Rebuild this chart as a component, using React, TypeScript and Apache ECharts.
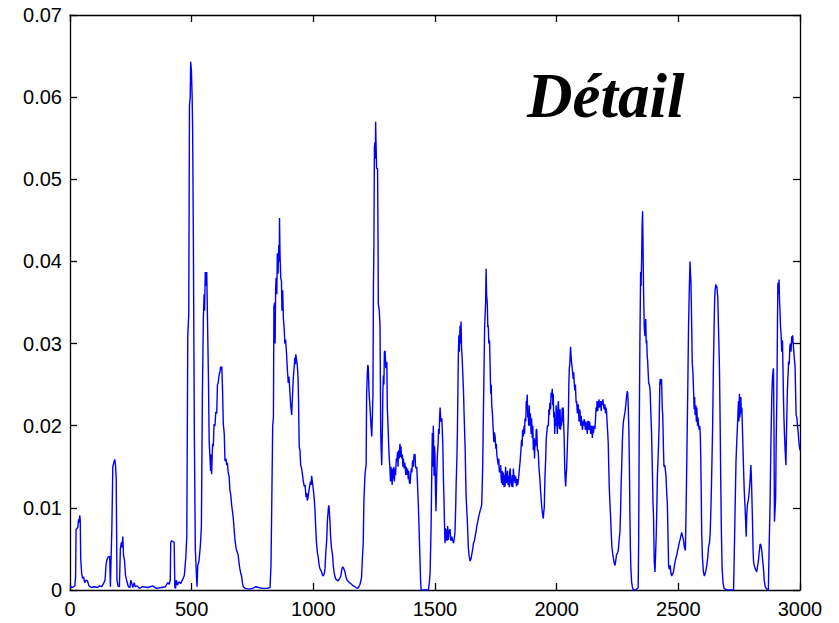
import React, { useEffect, useRef } from "react";
import * as echarts from "echarts";

// Signal samples [x, value]
const segmentA: [number, number][] = [
  [0,0.0004],[10,0.0003],[20,0.0005],[23,0.0016],[25,0.0074],[32,0.0076],[35,0.0086],[38,0.0082],[40,0.0091],[42,0.0086],[44,0.0039],[48,0.0020],[52,0.0014],[56,0.0016],[60,0.0009],[66,0.0012],[72,0.0011],[78,0.0005],[88,0.0003],[100,0.0004],[112,0.0003],[122,0.0005],[130,0.0004],[138,0.0008],[144,0.0012],[148,0.0030],[151,0.0036],[156,0.0040],[163,0.0041],[166,0.0004],[169,0.0040],[172,0.0075],[176,0.0150],[180,0.0155],[184,0.0159],[187,0.0152],[190,0.0135],[193,0.0012],[197,0.0005],[203,0.0004],[207,0.0050],[211,0.0058],[214,0.0052],[217,0.0065],[220,0.0042],[224,0.0036],[228,0.0018],[234,0.0010],[240,0.0004],[246,0.0003],[250,0.0012],[254,0.0008],[258,0.0003],[264,0.0009],[268,0.0004],[276,0.0005],[285,0.0002],[300,0.0004],[320,0.0003],[340,0.0005],[355,0.0002],[375,0.0003],[392,0.0004],[402,0.0009],[408,0.0007],[412,0.0012],[414,0.0058],[418,0.0060],[428,0.0058],[431,0.0003],[434,0.0002],[437,0.0012],[442,0.0006],[448,0.0010],[455,0.0008],[462,0.0012],[470,0.0018],[476,0.0040],[480,0.0065],[484,0.0310],[488,0.0335],[491,0.0590],[494,0.0600],[496,0.0643],[499,0.0632],[502,0.0600],[504,0.0560],[507,0.0426],[511,0.0190],[515,0.0050],[519,0.0022],[522,0.0004],[525,0.0030],[530,0.0035],[536,0.0055],[540,0.0078],[544,0.0235],[548,0.0330],[551,0.0360],[553,0.0340],[556,0.0387],[559,0.0370],[562,0.0387],[565,0.0330],[569,0.0257],[572,0.0180],[575,0.0163],[578,0.0145],[580,0.0165],[582,0.0141],[586,0.0178],[589,0.0175],[592,0.0202],[596,0.0200],[599,0.0217],[603,0.0215],[606,0.0250],[609,0.0252],[613,0.0262],[616,0.0265],[619,0.0272],[622,0.0268],[624,0.0272],
];

const segmentB: [number, number][] = [
  [627,0.0243],[630,0.0202],[634,0.0190],[637,0.0157],[641,0.0160],[644,0.0152],[647,0.0155],[650,0.0143],[654,0.0138],[657,0.0122],[661,0.0115],[664,0.0104],[668,0.0095],[671,0.0087],[675,0.0072],[678,0.0061],[682,0.0052],[685,0.0048],[691,0.0043],[695,0.0032],[698,0.0026],[702,0.0020],[705,0.0017],[709,0.0008],[712,0.0004],[720,0.0002],[735,0.0001],[750,0.0002],[765,0.0004],[775,0.0003],[790,0.0002],[810,0.0002],[822,0.0003],[826,0.0030],[829,0.0100],[833,0.0200],[836,0.0210],[838,0.0345],[841,0.0350],[843,0.0300],[845,0.0365],[847,0.0380],[850,0.0360],[852,0.0410],[855,0.0385],[858,0.0420],[860,0.0400],[861,0.0453],[863,0.0410],[866,0.0380],[869,0.0376],[871,0.0340],[874,0.0365],[877,0.0330],[880,0.0320],[883,0.0300],[886,0.0305],[890,0.0287],[893,0.0270],[897,0.0252],[900,0.0260],[904,0.0239],[907,0.0225],[911,0.0213],[915,0.0240],[918,0.0260],[921,0.0270],[924,0.0283],[926,0.0275],[928,0.0287],[931,0.0280],[934,0.0274],[937,0.0260],[939,0.0235],[942,0.0174],[945,0.0170],[948,0.0152],[952,0.0148],[956,0.0139],[959,0.0132],[963,0.0126],[966,0.0128],[970,0.0113],[973,0.0118],[975,0.0109],[978,0.0112],[980,0.0117],[984,0.0125],[988,0.0132],[991,0.0128],[993,0.0139],[996,0.0132],[1000,0.0122],[1004,0.0110],[1007,0.0096],[1010,0.0075],[1013,0.0057],[1017,0.0045],[1020,0.0040],[1024,0.0030],[1027,0.0026],[1031,0.0024],[1034,0.0022],[1038,0.0018],[1041,0.0017],[1045,0.0020],[1048,0.0026],[1051,0.0045],[1055,0.0061],[1058,0.0085],[1061,0.0096],[1063,0.0103],[1065,0.0100],[1068,0.0085],[1071,0.0065],[1075,0.0050],[1079,0.0043],[1082,0.0030],[1085,0.0022],[1089,0.0016],[1093,0.0013],[1098,0.0012],[1102,0.0011],[1108,0.0014],[1113,0.0017],[1117,0.0025],[1120,0.0028],[1124,0.0027],[1130,0.0022],[1134,0.0016],[1137,0.0013],[1142,0.0011],[1148,0.0009],[1153,0.0008],[1157,0.0007],[1164,0.0005],[1171,0.0004],[1176,0.0003],[1182,0.0002],[1187,0.0004],[1192,0.0007],[1198,0.0015],[1201,0.0035],[1205,0.0057],[1208,0.0110],[1212,0.0139],[1215,0.0148],[1217,0.0152],[1219,0.0239],[1222,0.0265],[1224,0.0274],[1226,0.0270],[1229,0.0240],[1233,0.0222],
];

const segmentC: [number, number][] = [
  [1237,0.0200],[1240,0.0187],[1243,0.0215],[1245,0.0239],[1247,0.0370],[1249,0.0420],[1251,0.0539],[1253,0.0545],[1255,0.0525],[1256,0.0570],[1258,0.0540],[1260,0.0513],[1264,0.0513],[1266,0.0420],[1267,0.0348],[1271,0.0340],[1274,0.0322],[1277,0.0191],[1279,0.0170],[1281,0.0152],[1284,0.0200],[1286,0.0245],[1288,0.0261],[1290,0.0250],[1292,0.0290],[1295,0.0291],[1298,0.0270],[1302,0.0278],[1304,0.0222],[1307,0.0200],[1310,0.0174],[1312,0.0160],[1315,0.0148],[1317,0.0132],[1319,0.0150],[1322,0.0139],[1324,0.0128],[1326,0.0148],[1329,0.0135],[1331,0.0150],[1333,0.0132],[1336,0.0148],[1338,0.0140],[1341,0.0160],[1343,0.0157],[1346,0.0168],[1348,0.0150],[1350,0.0170],[1353,0.0160],[1356,0.0178],[1358,0.0162],[1360,0.0175],[1363,0.0160],[1366,0.0165],[1368,0.0150],[1370,0.0160],[1373,0.0148],[1375,0.0155],[1377,0.0152],[1380,0.0140],[1382,0.0150],[1384,0.0140],[1387,0.0148],[1390,0.0135],[1392,0.0145],[1395,0.0130],[1398,0.0130],[1400,0.0140],[1403,0.0148],[1405,0.0143],[1408,0.0158],[1411,0.0150],[1414,0.0165],[1418,0.0165],[1420,0.0150],[1423,0.0148],[1425,0.0150],[1428,0.0130],[1432,0.0100],[1436,0.0060],[1439,0.0030],[1441,0.0010],[1443,0.0000],[1458,0.0000],[1473,0.0000],[1477,0.0010],[1480,0.0022],[1484,0.0078],[1487,0.0150],[1489,0.0191],[1491,0.0150],[1493,0.0200],[1495,0.0170],[1496,0.0139],[1498,0.0175],[1500,0.0165],[1502,0.0120],[1504,0.0096],[1507,0.0140],[1510,0.0165],[1513,0.0180],[1515,0.0196],[1517,0.0190],[1519,0.0210],[1521,0.0222],[1524,0.0205],[1528,0.0209],[1532,0.0178],[1535,0.0130],[1537,0.0109],[1539,0.0080],[1541,0.0057],[1543,0.0075],[1545,0.0060],[1548,0.0074],[1550,0.0060],[1552,0.0078],[1555,0.0061],[1558,0.0072],[1562,0.0074],[1565,0.0060],[1569,0.0065],[1573,0.0060],[1576,0.0057],[1579,0.0062],[1582,0.0070],[1585,0.0100],[1587,0.0130],[1590,0.0160],[1592,0.0191],[1594,0.0240],[1596,0.0287],[1598,0.0310],[1600,0.0290],[1603,0.0322],[1605,0.0300],[1607,0.0327],[1609,0.0296],[1612,0.0280],[1614,0.0265],[1617,0.0243],[1620,0.0210],[1624,0.0170],[1626,0.0140],[1628,0.0113],[1631,0.0095],[1633,0.0083],[1635,0.0068],[1637,0.0052],[1640,0.0042],[1644,0.0035],[1648,0.0038],[1651,0.0043],[1655,0.0050],[1658,0.0057],[1662,0.0060],[1665,0.0065],[1669,0.0072],[1672,0.0078],[1675,0.0082],[1678,0.0087],[1682,0.0092],[1685,0.0096],[1689,0.0100],[1692,0.0104],[1696,0.0150],[1699,0.0217],[1702,0.0280],[1704,0.0320],[1706,0.0335],[1708,0.0350],[1710,0.0391],[1712,0.0360],[1715,0.0348],[1717,0.0320],[1719,0.0322],[1721,0.0300],[1724,0.0304],[1726,0.0280],[1729,0.0239],[1731,0.0250],[1733,0.0226],[1736,0.0215],[1740,0.0191],[1742,0.0180],[1744,0.0192],[1747,0.0187],[1750,0.0172],[1752,0.0178],[1754,0.0165],[1757,0.0158],[1760,0.0152],[1762,0.0160],[1764,0.0145],[1767,0.0143],[1770,0.0152],[1772,0.0135],[1774,0.0130],[1776,0.0145],[1778,0.0128],[1781,0.0143],[1784,0.0125],[1786,0.0140],[1788,0.0126],[1790,0.0150],[1793,0.0130],[1795,0.0130],[1798,0.0145],[1800,0.0128],[1802,0.0139],[1805,0.0125],[1807,0.0143],[1809,0.0148],[1812,0.0130],[1815,0.0126],[1818,0.0140],[1820,0.0125],[1822,0.0148],[1825,0.0132],[1827,0.0140],[1829,0.0130],[1832,0.0138],[1835,0.0126],[1838,0.0135],[1840,0.0128],[1843,0.0135],[1846,0.0145],[1850,0.0157],
];

const segmentD: [number, number][] = [
  [1853,0.0170],[1856,0.0183],[1858,0.0175],[1860,0.0195],[1863,0.0187],[1866,0.0200],[1868,0.0190],[1870,0.0209],[1873,0.0205],[1875,0.0230],[1877,0.0226],[1879,0.0238],[1881,0.0210],[1883,0.0217],[1885,0.0200],[1887,0.0225],[1890,0.0200],[1892,0.0215],[1895,0.0190],[1897,0.0209],[1900,0.0185],[1902,0.0200],[1904,0.0170],[1907,0.0185],[1909,0.0160],[1911,0.0183],[1914,0.0175],[1916,0.0195],[1918,0.0196],[1921,0.0170],[1924,0.0170],[1927,0.0150],[1931,0.0135],[1934,0.0120],[1938,0.0104],[1941,0.0095],[1945,0.0087],[1947,0.0095],[1949,0.0100],[1952,0.0139],[1955,0.0160],[1957,0.0183],[1959,0.0183],[1962,0.0200],[1966,0.0200],[1968,0.0220],[1970,0.0213],[1972,0.0228],[1975,0.0220],[1977,0.0240],[1979,0.0235],[1982,0.0245],[1984,0.0225],[1986,0.0239],[1988,0.0210],[1990,0.0217],[1992,0.0190],[1994,0.0208],[1996,0.0200],[1998,0.0225],[2000,0.0209],[2003,0.0190],[2005,0.0220],[2007,0.0230],[2010,0.0200],[2012,0.0196],[2014,0.0220],[2016,0.0195],[2018,0.0209],[2020,0.0200],[2023,0.0222],[2025,0.0205],[2027,0.0222],[2029,0.0200],[2031,0.0183],[2033,0.0150],[2035,0.0135],[2037,0.0126],[2039,0.0140],[2041,0.0148],[2044,0.0175],[2048,0.0209],[2050,0.0250],[2052,0.0270],[2054,0.0275],[2057,0.0296],[2059,0.0285],[2061,0.0278],[2064,0.0270],[2068,0.0257],[2070,0.0265],[2073,0.0248],[2075,0.0243],[2077,0.0250],[2080,0.0228],[2082,0.0230],[2085,0.0215],[2087,0.0226],[2089,0.0225],[2092,0.0205],[2094,0.0220],[2096,0.0217],[2099,0.0200],[2101,0.0212],[2103,0.0204],[2106,0.0195],[2109,0.0206],[2111,0.0200],[2113,0.0208],[2116,0.0202],[2118,0.0195],[2120,0.0205],[2123,0.0200],[2126,0.0190],[2128,0.0205],[2130,0.0206],[2133,0.0195],[2135,0.0205],[2137,0.0200],[2140,0.0190],[2142,0.0200],[2144,0.0196],[2147,0.0185],[2149,0.0200],[2151,0.0191],[2154,0.0200],[2157,0.0196],[2160,0.0210],[2162,0.0222],[2164,0.0217],[2166,0.0230],[2169,0.0218],[2171,0.0226],[2174,0.0232],[2176,0.0222],[2178,0.0226],[2181,0.0230],[2183,0.0218],[2185,0.0230],[2188,0.0225],[2190,0.0232],[2192,0.0226],[2195,0.0220],[2198,0.0226],[2201,0.0215],[2203,0.0222],[2205,0.0217],[2208,0.0200],[2210,0.0190],[2212,0.0178],[2214,0.0150],[2216,0.0126],[2219,0.0105],[2222,0.0087],[2225,0.0065],[2227,0.0052],[2230,0.0045],[2233,0.0039],[2237,0.0032],[2240,0.0030],[2243,0.0036],[2246,0.0043],[2250,0.0045],[2253,0.0048],[2256,0.0058],[2258,0.0065],[2260,0.0070],[2263,0.0100],[2265,0.0130],[2267,0.0148],[2270,0.0180],[2272,0.0195],[2274,0.0204],[2277,0.0210],[2281,0.0217],[2284,0.0225],[2287,0.0235],[2290,0.0242],[2292,0.0239],[2294,0.0225],[2297,0.0191],[2299,0.0150],[2301,0.0091],[2303,0.0050],[2305,0.0026],[2308,0.0010],[2311,0.0004],[2315,0.0000],[2325,0.0000],[2335,0.0003],[2337,0.0060],[2339,0.0178],[2342,0.0300],[2345,0.0387],[2347,0.0370],[2349,0.0400],[2351,0.0440],[2353,0.0461],[2355,0.0420],[2357,0.0365],[2360,0.0320],[2363,0.0309],[2366,0.0330],[2368,0.0300],[2370,0.0304],[2372,0.0285],[2374,0.0278],[2376,0.0265],[2378,0.0252],[2381,0.0250],[2384,0.0243],[2387,0.0215],[2390,0.0191],[2393,0.0150],[2396,0.0105],[2398,0.0090],[2401,0.0035],[2404,0.0022],[2406,0.0022],[2409,0.0065],[2411,0.0090],[2414,0.0139],[2418,0.0170],[2421,0.0200],[2424,0.0252],[2426,0.0257],[2428,0.0250],[2431,0.0257],[2434,0.0220],[2436,0.0213],[2439,0.0170],[2441,0.0150],[2444,0.0152],[2446,0.0148],[2449,0.0140],[2452,0.0120],[2455,0.0104],[2458,0.0060],[2460,0.0030],[2463,0.0025],[2466,0.0030],
];

const segmentE: [number, number][] = [
  [2470,0.0020],[2473,0.0017],[2477,0.0020],[2480,0.0022],[2484,0.0030],[2487,0.0035],[2491,0.0040],[2494,0.0043],[2497,0.0048],[2500,0.0052],[2504,0.0058],[2507,0.0061],[2510,0.0065],[2514,0.0070],[2517,0.0066],[2521,0.0061],[2525,0.0052],[2529,0.0048],[2532,0.0100],[2535,0.0161],[2539,0.0250],[2542,0.0322],[2545,0.0365],[2548,0.0400],[2550,0.0385],[2552,0.0374],[2555,0.0320],[2557,0.0278],[2560,0.0265],[2562,0.0248],[2565,0.0220],[2567,0.0235],[2569,0.0213],[2572,0.0225],[2574,0.0205],[2576,0.0222],[2579,0.0200],[2581,0.0210],[2583,0.0200],[2586,0.0195],[2588,0.0200],[2590,0.0191],[2592,0.0165],[2594,0.0120],[2596,0.0070],[2599,0.0040],[2603,0.0022],[2607,0.0017],[2612,0.0022],[2617,0.0030],[2621,0.0040],[2624,0.0052],[2628,0.0058],[2631,0.0070],[2634,0.0100],[2637,0.0139],[2641,0.0200],[2644,0.0270],[2647,0.0320],[2649,0.0350],[2651,0.0365],[2654,0.0372],[2656,0.0368],[2658,0.0370],[2662,0.0357],[2665,0.0320],[2669,0.0270],[2672,0.0200],[2674,0.0139],[2677,0.0070],[2680,0.0026],[2684,0.0008],[2688,0.0002],[2700,0.0000],[2715,0.0000],[2727,0.0000],[2729,0.0030],[2731,0.0061],[2734,0.0110],[2737,0.0157],[2740,0.0180],[2743,0.0200],[2745,0.0215],[2747,0.0230],[2749,0.0205],[2751,0.0239],[2753,0.0210],[2755,0.0225],[2757,0.0235],[2759,0.0215],[2761,0.0222],[2765,0.0180],[2768,0.0148],[2771,0.0120],[2775,0.0096],[2777,0.0080],[2779,0.0065],[2781,0.0090],[2784,0.0104],[2788,0.0110],[2792,0.0122],[2795,0.0135],[2798,0.0152],[2800,0.0140],[2802,0.0117],[2805,0.0080],[2807,0.0050],[2809,0.0035],[2812,0.0030],[2816,0.0026],[2819,0.0024],[2822,0.0022],[2825,0.0028],[2829,0.0035],[2832,0.0045],[2836,0.0056],[2839,0.0055],[2843,0.0048],[2846,0.0038],[2850,0.0026],[2853,0.0012],[2857,0.0004],[2863,0.0001],[2870,0.0000],[2873,0.0050],[2877,0.0104],[2880,0.0170],[2884,0.0235],[2887,0.0260],[2891,0.0270],[2893,0.0200],[2895,0.0083],[2898,0.0100],[2900,0.0113],[2902,0.0180],[2905,0.0235],[2907,0.0310],[2909,0.0374],[2912,0.0360],[2914,0.0378],[2916,0.0350],[2918,0.0339],[2920,0.0320],[2922,0.0313],[2925,0.0290],[2928,0.0304],[2930,0.0270],[2932,0.0235],[2934,0.0210],[2936,0.0191],[2939,0.0170],[2942,0.0152],[2944,0.0185],[2946,0.0213],[2948,0.0240],[2950,0.0257],[2952,0.0268],[2953,0.0278],[2956,0.0275],[2958,0.0295],[2960,0.0300],[2963,0.0290],[2966,0.0309],[2968,0.0300],[2970,0.0310],[2973,0.0296],[2976,0.0285],[2980,0.0270],[2982,0.0240],[2984,0.0213],[2987,0.0210],[2990,0.0200],[2993,0.0190],[2996,0.0178],[3000,0.0170],
];

const xTicks = { min: 0, max: 3000, interval: 500 };
const yTicks = { min: 0, max: 0.07, interval: 0.01 };
const titleText = "Détail";

const signal = [...segmentA, ...segmentB, ...segmentC, ...segmentD, ...segmentE];

const LABEL_FONT = '"Liberation Sans", Arial, Helvetica, sans-serif';

export default function App() {
  const ref = useRef<HTMLDivElement>(null);
  useEffect(() => {
    document.body.style.margin = "0";
    if (!ref.current) return;
    const chart = echarts.init(ref.current, null, { renderer: "svg" });
    const axisLine = { show: true, onZero: false, lineStyle: { color: "#000", width: 1.3 } };
    const axisTick = { show: true, inside: true, length: 7, lineStyle: { color: "#000", width: 1.3 } };
    const label = { color: "#000", fontSize: 20, fontFamily: LABEL_FONT };
    chart.setOption({
      animation: false,
      backgroundColor: "#fff",
      grid: { left: 70, right: 39, top: 15, bottom: 33, containLabel: false },
      xAxis: [
        {
          type: "value", position: "bottom", ...xTicks,
          axisLine, axisTick,
          axisLabel: { ...label, margin: 9, formatter: (v: number) => String(v) },
          splitLine: { show: false },
        },
        {
          type: "value", position: "top", ...xTicks,
          axisLine, axisTick, axisLabel: { show: false },
          splitLine: { show: false },
        },
      ],
      yAxis: [
        {
          type: "value", position: "left", ...yTicks,
          axisLine, axisTick,
          axisLabel: {
            ...label, margin: 8,
            formatter: (v: number) => (v === 0 ? "0" : v.toFixed(2)),
          },
          splitLine: { show: false },
        },
        {
          type: "value", position: "right", ...yTicks,
          axisLine, axisTick, axisLabel: { show: false },
          splitLine: { show: false },
        },
      ],
      graphic: [
        {
          type: "text",
          x: 527,
          y: 96,
          style: {
            text: titleText,
            fill: "#000",
            font: 'italic bold 63px "Liberation Serif", "Times New Roman", serif',
            align: "left",
            verticalAlign: "middle",
          },
        },
      ],
      series: [
        {
          type: "line",
          xAxisIndex: 0,
          yAxisIndex: 0,
          data: signal,
          showSymbol: false,
          symbol: "none",
          clip: true,
          lineStyle: { color: "#0000ff", width: 1.4 },
        },
      ],
    });
    return () => chart.dispose();
  }, []);
  return <div ref={ref} style={{ width: 839, height: 623 }} />;
}
